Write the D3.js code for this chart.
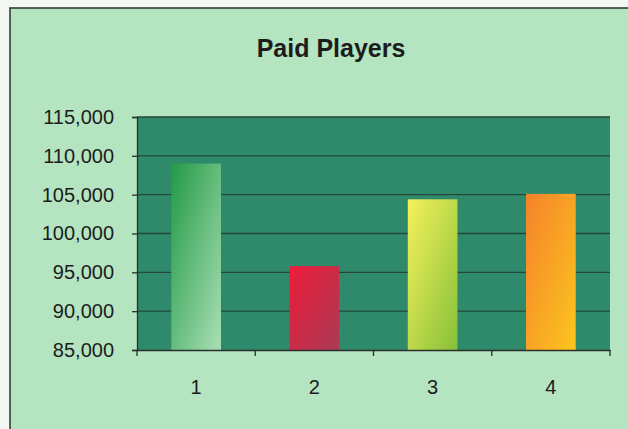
<!DOCTYPE html>
<html>
<head>
<meta charset="utf-8">
<script src="https://cdn.jsdelivr.net/npm/d3@7"></script>
<style>
  body { margin: 0; background: #f4f8f4; }
</style>
</head>
<body>
<div id="chart"></div>
<script>
// données
const categories = ["1", "2", "3", "4"];
const values = [109000, 95800, 104400, 105100];
const yTicks = [85000, 90000, 95000, 100000, 105000, 110000, 115000];
const title = "Paid Players";

// couleurs des barres (début / fin du dégradé)
const barColors = [
  ["#229a45", "#a9dfb5"],
  ["#ee1c38", "#a93a55"],
  ["#f5f25a", "#86c03a"],
  ["#f5832a", "#fbc51e"]
];

const width = 628, height = 429;
const margin = { top: 117, right: 18, bottom: 79, left: 137 };

const svg = d3.select("#chart").append("svg")
  .attr("width", width)
  .attr("height", height)
  .style("font-family", "Arial, 'Liberation Sans', sans-serif");

// fond du graphique
svg.append("rect")
  .attr("x", 10).attr("y", 8)
  .attr("width", width - 10).attr("height", height - 8)
  .attr("fill", "#b4e4c0");
svg.append("path")
  .attr("d", `M10,${height} V8 H${width}`)
  .attr("fill", "none")
  .attr("stroke", "#2b2f2c")
  .attr("stroke-width", 1.5);

const x = d3.scaleBand()
  .domain(categories)
  .range([margin.left, width - margin.right])
  .paddingInner(0.58)
  .paddingOuter(0.29);

const y = d3.scaleLinear()
  .domain([85000, 115000])
  .range([height - margin.bottom, margin.top]);

// zone de tracé
svg.append("rect")
  .attr("x", margin.left).attr("y", margin.top)
  .attr("width", width - margin.right - margin.left)
  .attr("height", height - margin.bottom - margin.top)
  .attr("fill", "#2f8a6b");

// grille
svg.append("g")
  .selectAll("line")
  .data(yTicks.slice(1))
  .join("line")
  .attr("x1", margin.left).attr("x2", width - margin.right)
  .attr("y1", d => y(d)).attr("y2", d => y(d))
  .attr("stroke", "#24473a")
  .attr("stroke-width", 1.3);

// dégradés
const defs = svg.append("defs");
barColors.forEach((c, i) => {
  const g = defs.append("linearGradient")
    .attr("id", "grad" + i)
    .attr("x1", "0%").attr("y1", "0%")
    .attr("x2", "100%").attr("y2", "100%");
  g.append("stop").attr("offset", "0%").attr("stop-color", c[0]);
  g.append("stop").attr("offset", "100%").attr("stop-color", c[1]);
});

// barres
svg.append("g")
  .selectAll("rect")
  .data(values)
  .join("rect")
  .attr("x", (d, i) => x(categories[i]))
  .attr("y", d => y(d))
  .attr("width", x.bandwidth())
  .attr("height", d => y(85000) - y(d))
  .attr("fill", (d, i) => `url(#grad${i})`);

// axe Y
const yAxis = svg.append("g")
  .attr("transform", `translate(${margin.left},0)`)
  .call(d3.axisLeft(y).tickValues(yTicks).tickFormat(d3.format(",")).tickSizeOuter(0).tickSize(5).tickPadding(18));
yAxis.selectAll("text").style("font-size", "20px").attr("fill", "#1c1c1c");
yAxis.selectAll("line, path").attr("stroke", "#2b2f2c").attr("stroke-width", 1.3);

// axe X
const xAxis = svg.append("g")
  .attr("transform", `translate(0,${height - margin.bottom})`)
  .call(d3.axisBottom(x).tickSize(0).tickSizeOuter(0).tickPadding(30));
xAxis.selectAll("text").style("font-size", "20px").attr("fill", "#1c1c1c");
xAxis.select(".domain").attr("stroke", "#2b2f2c").attr("stroke-width", 1.3);

// graduations entre les catégories
const step = x.step();
svg.append("g")
  .selectAll("line")
  .data(d3.range(categories.length + 1))
  .join("line")
  .attr("x1", i => margin.left + i * step)
  .attr("x2", i => margin.left + i * step)
  .attr("y1", height - margin.bottom)
  .attr("y2", height - margin.bottom + 6)
  .attr("stroke", "#2b2f2c")
  .attr("stroke-width", 1.3);

// titre
svg.append("text")
  .attr("x", 331).attr("y", 57)
  .attr("text-anchor", "middle")
  .style("font-size", "25px")
  .style("font-weight", "bold")
  .attr("fill", "#1c1c1c")
  .text(title);
</script>
</body>
</html>
